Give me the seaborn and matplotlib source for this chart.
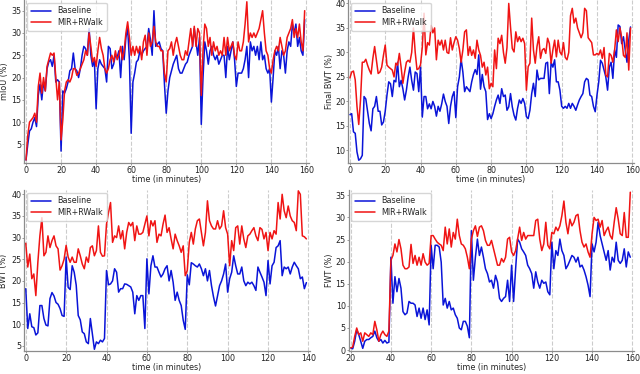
import matplotlib
matplotlib.use("Agg")
import matplotlib.pyplot as plt
import numpy as np
import seaborn as sns

# ---------------------------------------------------------------------------
# Data (one value per minute)
# ---------------------------------------------------------------------------

miou_time = list(range(0, 160))
miou_baseline = [
    1.5, 5, 8, 8.5, 10, 11, 9, 16, 18.5, 15,
    19, 17, 22, 23.5, 24, 22.5, 25, 19, 19.5, 19,
    3.5, 17, 16.5, 17.5, 19, 21.5, 22, 25.5, 22, 21.5,
    20, 22, 25, 27, 26.5, 25, 31, 25, 22.5, 24,
    13, 22, 24, 23, 22.5, 22, 19, 27, 26.5, 22,
    23, 25, 24.5, 26, 20, 27, 24, 29, 31, 24,
    7.5, 19, 21, 23.5, 24, 26, 25, 26, 26.5, 27,
    31, 28.5, 25, 35, 27, 27.5, 28, 26.5, 26, 18.5,
    12, 17, 20, 21.5, 23, 24, 25, 22, 21, 21,
    22, 23, 23.5, 25, 26, 27, 31, 28, 25, 29,
    9.5, 20, 28, 26, 23, 26, 27, 25, 24, 25,
    23, 24, 25, 25, 20, 27, 24, 26, 28, 24,
    18, 21, 21, 21, 22, 24, 27, 20, 28, 26,
    27, 25, 27, 24, 28, 24, 25, 22, 21, 22,
    14.5, 20, 26, 25, 27, 22, 26, 25, 21, 26,
    28, 27, 32, 30, 32, 27, 29, 26, 25, 33,
]
miou_mir = [
    1.5, 7, 10, 10.5, 11, 12, 10, 18, 21, 16.5,
    20, 17, 22.5, 24, 25.5, 25, 25.5, 20, 15, 19,
    6, 10.5, 17, 19, 19.5, 19, 20, 22, 22, 20.5,
    21, 22, 23, 24, 26, 25, 30, 27, 23.5, 24.5,
    22.5, 26, 29, 26.5, 25, 22, 21, 22, 24, 25,
    23.5, 26, 24, 25, 27, 24, 26, 30, 32.5, 29,
    25, 27, 25, 27, 25.5, 27, 24, 28, 29.5, 25,
    30, 27, 28, 31.5, 28, 27, 27, 26, 26, 21,
    19, 26, 26.5, 28, 25, 27.5, 29, 27, 25, 24,
    24, 26, 25, 28, 31, 27, 31.5, 27, 31, 30,
    16, 26, 32, 31, 27, 29, 25, 28, 26, 27,
    25, 26, 25, 29, 25, 29, 26, 27, 28, 25,
    24, 28, 26, 26, 28, 32, 37, 28, 30, 29,
    30, 29, 30, 31, 33, 35, 30, 26, 25, 22,
    21, 24, 26, 27, 26, 29, 27, 25, 26, 29,
    30, 31, 33, 29, 31, 29, 32, 28, 26, 35,
]

final_time = list(range(0, 160))
final_baseline = [
    17.3, 17.5, 13.8, 13.5, 9.7, 8, 8.3, 9, 21, 20.5,
    18, 15.5, 14, 18.5, 19, 21, 18, 18, 15.2, 15.8,
    18, 21.3, 24, 23.6, 21, 24.3, 24, 28, 23, 24.3,
    22.6, 20.3, 22.3, 25, 27, 24.3, 22.3, 26, 25.7, 22,
    27, 16.8, 21, 21, 18.5, 19.5, 18.5, 20, 19, 17,
    19, 18, 19.5, 21.5, 20, 19, 15.5, 19, 21, 22,
    16.7, 23, 25, 28.7, 26, 22, 23, 22.5, 22, 24,
    25.5, 26.5, 25.5, 29.5, 22.5, 25.5, 23, 22, 16.3, 17.5,
    16.5, 17.5, 19, 20.3, 21.3, 19.6, 22.6, 21, 21.3, 18.2,
    18.9, 21.6, 18.9, 17.2, 16.2, 18.6, 20.3, 19.6, 20.6, 19.6,
    16.9, 16.5, 18.2, 21.6, 23.7, 21, 26.4, 24.4, 24.7, 24.7,
    24.7, 27.8, 28, 21.6, 28, 27, 28.5, 24, 24, 22.3,
    19, 18.6, 19, 18.6, 19.6, 18.6, 19.6, 19, 18.2, 19.3,
    20.3, 21, 21.6, 24, 24.7, 24.4, 21.3, 21, 19, 17.9,
    21.3, 24, 28.4, 27.8, 26.4, 25, 22.3, 27, 28, 24.7,
    30.5, 29, 35.6, 35.3, 31.8, 33.2, 30.5, 28, 32.5, 35.2,
]
final_mir = [
    24.8, 26, 26.2, 24.4, 19, 15.3, 20.3, 28, 28, 28.6,
    27.4, 26.4, 25.6, 28.8, 31.2, 28.4, 25.7, 26, 27, 29.4,
    31.5, 27.4, 27, 26.7, 26.4, 25, 27.8, 27.4, 29.8, 27,
    23.7, 26, 28, 28.4, 28, 30, 35, 30, 26.5, 26.7,
    27.5, 31, 38, 29.5, 32, 31.5, 35.5, 34, 35, 28.5,
    32.5, 31.5, 32.5, 30.5, 32.5, 30, 29.8, 33, 30.5, 32,
    33.2, 32.5, 30.8, 28, 30.5, 34.2, 34.6, 29.4, 31.2, 29.4,
    30.5, 28.8, 32.5, 30.5, 29.4, 27, 28, 25.4, 27, 22.6,
    23.7, 23, 30.5, 26.7, 32.9, 31.8, 33.5, 30, 27.8, 31,
    40, 35.2, 30.8, 30.1, 34.2, 32.2, 33.2, 32.2, 32.9, 31.8,
    22.3, 27.1, 27.8, 37, 30.5, 27.8, 31.2, 33.2, 28.8, 30.5,
    30.8, 29.8, 32.9, 31.8, 27.8, 30.5, 32.5, 29.1, 32.5, 30.1,
    29.5, 32, 29, 28.5, 30, 37.5, 39, 36, 37, 35,
    34, 33, 34, 39, 38.5, 33, 32.5, 32, 29.5, 29.5,
    29.8, 29.5, 30.5, 28.8, 31, 25.4, 25, 29.8, 29.4, 28,
    30.5, 34.6, 32.2, 35, 33, 29.4, 29, 34, 26.4, 35,
]

bwt_time = list(range(0, 140))
bwt_baseline = [
    18.2, 9, 12.4, 9.4, 9.2, 7.5, 8, 14.3, 14.3, 11.3,
    9.8, 9.6, 15.9, 17.3, 16.5, 15, 14.6, 13.6, 12, 11.8,
    25.5, 18.5, 18, 23.5, 22, 19, 12, 11, 8.2, 7.8,
    5.9, 5.5, 11.3, 7.8, 4.2, 5.9, 5.5, 6.3, 5.9, 6.7,
    22.4, 19.1, 19.3, 20, 22.8, 22, 17.4, 18.2, 18.2, 19.3,
    19.2, 18.9, 18.6, 17.4, 12.4, 16.6, 15.5, 16.6, 16.6, 9,
    25.1, 17, 23.5, 25.8, 23.2, 23.2, 22, 20.9, 21.6, 22.8,
    23.5, 20, 22.4, 19.7, 15.5, 17.4, 15.5, 14.3, 10.9, 8.8,
    21.4, 19.1, 24.2, 23.9, 23.5, 23.2, 23.9, 22.8, 21.2, 22.8,
    20, 22.4, 18.9, 16.3, 14.2, 16.6, 18.9, 20, 21.6, 23.9,
    17.4, 20.5, 22, 25.8, 23.5, 21.6, 21.6, 23.2, 20, 18.9,
    19.7, 19.3, 19.7, 18.9, 17.8, 23.2, 22, 20.9, 19.7, 16.6,
    24.7, 19.3, 23.5, 24.3, 27.7, 28.1, 29.3, 21.2, 23.2, 22.8,
    23.2, 21.6, 23.2, 24.3, 23.5, 22.8, 20.5, 20.9, 18.2, 19.6,
]
bwt_mir = [
    28.7, 23.2, 26.2, 20.5, 21.6, 16.6, 24.3, 30.4, 34.6, 25.8,
    26.6, 30.4, 27.7, 29.3, 30.4, 28.1, 27.4, 22.5, 23.5, 25,
    28.2, 25.5, 24.3, 25.5, 24.3, 24.3, 27.4, 25.8, 23.9, 22.8,
    25.5, 24.3, 27.7, 28.1, 25.8, 27, 32.7, 26.6, 25.7, 25.8,
    33.1, 35.8, 38.1, 28.9, 30.4, 30, 32.7, 29.7, 31.6, 27.4,
    31.2, 33.5, 32.7, 33.5, 29.3, 32.7, 30.8, 30.8, 31.2, 33.1,
    35, 30.4, 33.9, 32.7, 33.9, 28.9, 30.8, 30.4, 33.1, 35.2,
    31.2, 32.3, 29.7, 27.4, 30.8, 29.3, 28.1, 26.6, 28.1, 21.2,
    22.4, 28.9, 31.2, 28.5, 32, 33.9, 34.3, 31.2, 28.1, 31.2,
    38.5, 33.9, 32.7, 32, 32, 33.9, 32, 32.7, 36.2, 32.3,
    30.8, 23.5, 29.3, 27, 32.3, 32.7, 28.5, 32.7, 29.7, 27.7,
    30.4, 30.8, 31.6, 32.3, 30.4, 29.3, 32.3, 31.9, 29.7, 31.2,
    27, 31.2, 29.7, 31.6, 30.8, 38.1, 34.3, 40, 36.2, 34.6,
    37.3, 35, 33.9, 33.5, 31.6, 40.8, 40, 30.4, 30.2, 29.7,
]

fwt_time = list(range(20, 160))
fwt_baseline = [
    0.5, 0.3, 2, 4.6, 3.5, 2, 0.4, 2, 2.4, 2.4,
    2.8, 3.1, 4.3, 2.8, 2, 2.4, 1.6, 2.2, 1.6, 1.8,
    21, 10.6, 16.6, 13.2, 16.2, 14, 8.7, 8, 8.4, 11,
    10.6, 10.6, 10.2, 7.6, 9.5, 7.2, 9.5, 6.9, 9.1, 5.7,
    23.7, 18.4, 23.7, 23.7, 23.3, 19.9, 10.2, 11.7, 9.5, 11,
    9.1, 9.5, 8, 7.2, 5, 4.6, 6.5, 6.5, 5.4, 2.8,
    27, 15.8, 21, 25.1, 21.4, 23.3, 21, 18.4, 17.3, 15.4,
    15.8, 14, 16.9, 15.4, 11.7, 11, 11.7, 12.1, 15.8, 11,
    19.2, 11, 18.4, 25.1, 24.4, 22.9, 22.2, 21.4, 19.2, 18.4,
    17.3, 14, 17.7, 15.4, 14, 15.8, 15.1, 15.4, 13.2, 12.5,
    24.4, 18.4, 22.5, 21.4, 25.1, 22.5, 21.4, 18.4, 19.2, 20.3,
    21.4, 21, 19.9, 21, 18.8, 19.2, 18.1, 16.6, 14.7, 12.1,
    24, 22.2, 24.4, 28.9, 25.9, 24, 22.2, 20.3, 22.5, 18.1,
    21, 19.9, 24.4, 20.3, 19.6, 20.3, 22.9, 18.8, 22.2, 21,
]
fwt_mir = [
    0.5, 0.7, 3.1, 5, 3.5, 3.9, 2, 3.9, 3.5, 3.1,
    3.9, 3.5, 6.5, 4.6, 2, 3.5, 4.3, 3.5, 3.1, 4.3,
    20.3, 21.4, 24, 22.2, 25, 22.9, 19.2, 18.4, 18.4, 18.8,
    23.9, 19.6, 21.4, 19.2, 21, 19.2, 21.8, 19.9, 19.2, 19.6,
    25.9, 25.9, 25.1, 24.4, 24, 23.7, 22.5, 27.8, 24, 27.4,
    23.3, 26.6, 25.1, 29.6, 25.9, 24, 23.7, 22.9, 21, 18.4,
    25.1, 27, 28.1, 25.7, 27.8, 28.1, 27, 24.8, 23.7, 23.7,
    24.8, 22.9, 21, 19.2, 19.2, 20.7, 19.9, 21, 25.1, 25.5,
    22.2, 21.4, 22.5, 25.1, 27.8, 24.8, 26.6, 25.1, 25.9, 25.9,
    25.9, 25.9, 29.3, 29.6, 25.1, 22.5, 24, 28.9, 23.7, 22.9,
    26.6, 26.3, 27.8, 27, 28.1, 30.4, 33.7, 28.9, 26.3, 29.6,
    28.1, 28.9, 30.4, 30.7, 27, 24.4, 23.3, 24, 22.2, 21,
    26.3, 30, 29.3, 29.6, 27.8, 29.3, 25.9, 27, 27.8, 25.9,
    25.1, 28.9, 32.2, 29.6, 26.3, 25.9, 31.1, 25.5, 25.5, 35.7,
]

BLUE = "#0a14d8"
RED = "#f01414"
FS = 5.8

# ---------------------------------------------------------------------------
# Plotting
# ---------------------------------------------------------------------------

sns.set_style("ticks")
plt.rcParams["font.family"] = ["DejaVu Sans"]
plt.rcParams["axes.edgecolor"] = "#8c8c8c"
plt.rcParams["xtick.color"] = "#8c8c8c"
plt.rcParams["ytick.color"] = "#8c8c8c"
plt.rcParams["xtick.labelcolor"] = "#222222"
plt.rcParams["ytick.labelcolor"] = "#222222"

fig = plt.figure(figsize=(6.4, 3.74), dpi=100)

panels = [
    # position, time, baseline, mir, ylabel, xlim, ylim, yticks, xticks, ylabel x
    ([0.0379, 0.565, 0.445, 0.435], miou_time, miou_baseline, miou_mir,
     "mIoU (%)", (-1, 161.5), (0.9, 37.4), range(5, 36, 5), range(0, 161, 20), -0.055),
    ([0.544, 0.565, 0.4467, 0.435], final_time, final_baseline, final_mir,
     "Final BWT (%)", (-1, 161), (7.5, 40.7), range(10, 41, 5), range(0, 161, 20), -0.051),
    ([0.0377, 0.0615, 0.4467, 0.4305], bwt_time, bwt_baseline, bwt_mir,
     "BWT (%)", (-0.8, 140.8), (3.8, 41), range(5, 41, 5), range(0, 141, 20), -0.055),
    ([0.5448, 0.0615, 0.4463, 0.4305], fwt_time, fwt_baseline, fwt_mir,
     "FWT (%)", (19, 161), (-0.2, 36.2), range(0, 36, 5), range(20, 161, 20), -0.053),
]

for pos, t, base, mir, ylabel, xlim, ylim, yticks, xticks, ylab_x in panels:
    ax = fig.add_axes(pos)
    sns.lineplot(x=t, y=base, color=BLUE, lw=1.1, label="Baseline", ax=ax)
    sns.lineplot(x=t, y=mir, color=RED, lw=1.1, label="MIR+RWalk", ax=ax)

    ax.set_xlim(*xlim)
    ax.set_ylim(*ylim)
    ax.set_xticks(list(xticks))
    ax.set_yticks(list(yticks))
    ax.tick_params(labelsize=FS, length=1.5, width=0.6, pad=0.6)
    ax.grid(axis="x", linestyle="--", color="#cccccc", lw=0.8)
    ax.set_axisbelow(True)
    sns.despine(ax=ax)
    for side in ("left", "bottom"):
        ax.spines[side].set_linewidth(0.9)

    ax.set_xlabel("time (in minutes)", fontsize=FS, labelpad=0.3)
    ax.set_ylabel(ylabel, fontsize=FS)
    ax.yaxis.set_label_coords(ylab_x, 0.5)
    ax.legend(loc="upper left", fontsize=FS, frameon=True, handlelength=2.5,
              borderpad=0.45, labelspacing=0.35, borderaxespad=0.35,
              edgecolor="#cccccc", fancybox=True)

fig.savefig("out.png", dpi=100)
